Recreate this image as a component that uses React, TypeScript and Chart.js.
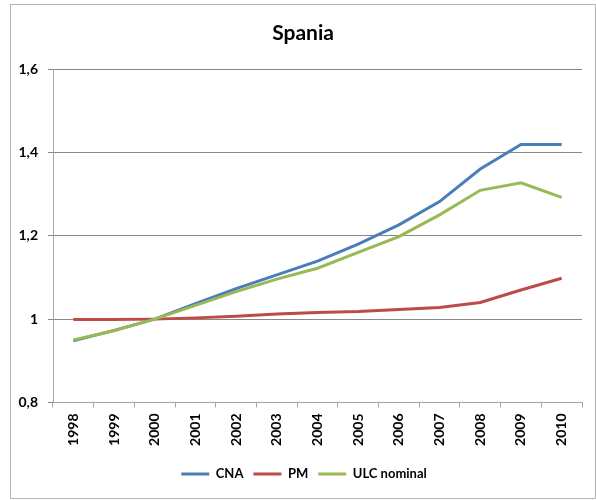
import React, { useEffect, useRef } from "react";
import { Chart, registerables } from "chart.js";

Chart.register(...registerables);

const years = ["1998", "1999", "2000", "2001", "2002", "2003", "2004", "2005", "2006", "2007", "2008", "2009", "2010"];
const cna = [0.948, 0.973, 1.0, 1.037, 1.073, 1.106, 1.139, 1.18, 1.226, 1.282, 1.36, 1.419, 1.419];
const pm = [0.999, 0.999, 1.0, 1.003, 1.007, 1.012, 1.016, 1.018, 1.023, 1.028, 1.04, 1.07, 1.098];
const ulc = [0.95, 0.972, 1.0, 1.033, 1.066, 1.096, 1.122, 1.16, 1.198, 1.25, 1.309, 1.327, 1.292];
const seriesNames = ["CNA", "PM", "ULC nominal"];
const chartTitle = "Spania";

const FONT = 'Lato, "Liberation Sans", sans-serif';

const borderPlugin = {
  id: "outerBorder",
  beforeDraw(chart: any) {
    const ctx = chart.ctx;
    ctx.save();
    ctx.fillStyle = "#ffffff";
    ctx.fillRect(0, 0, chart.width, chart.height);
    ctx.strokeStyle = "#b3b3b3";
    ctx.lineWidth = 1;
    ctx.strokeRect(10.5, 4.5, 585, 494);
    ctx.restore();
  },
  afterLayout(chart: any) {
    if (chart.legend) {
      chart.legend.left += 13;
      chart.legend.right += 13;
    }
    if (chart.titleBlock) {
      chart.titleBlock.left += 12;
      chart.titleBlock.right += 12;
    }
  },
};

export default function App() {
  const ref = useRef<HTMLCanvasElement | null>(null);
  useEffect(() => {
    if (!ref.current) return;
    const chart = new Chart(ref.current, {
      type: "line",
      data: {
        labels: years,
        datasets: [
          { label: seriesNames[0], data: cna, borderColor: "#4a7ebb", backgroundColor: "#4a7ebb", borderWidth: 3, pointRadius: 0, tension: 0, order: 1 },
          { label: seriesNames[1], data: pm, borderColor: "#be4b48", backgroundColor: "#be4b48", borderWidth: 3, pointRadius: 0, tension: 0, order: 2 },
          { label: seriesNames[2], data: ulc, borderColor: "#98b954", backgroundColor: "#98b954", borderWidth: 3, pointRadius: 0, tension: 0, order: 0 },
        ],
      },
      options: {
        responsive: false,
        animation: false,
        layout: { padding: { left: 0, right: 14, top: 0, bottom: 9.5 } },
        plugins: {
          title: {
            display: true,
            text: chartTitle,
            color: "#000",
            font: { family: FONT, size: 21, weight: "bold", lineHeight: 1.2 },
            padding: { top: 21, bottom: 22.8 },
          },
          legend: {
            position: "bottom",
            labels: {
              color: "#000",
              font: { family: FONT, size: 13, weight: "bold" },
              usePointStyle: true,
              pointStyle: "line",
              pointStyleWidth: 28,
              padding: 10,
              sort: (a: any, b: any) => a.datasetIndex - b.datasetIndex,
            },
          },
          tooltip: { enabled: false },
        },
        scales: {
          x: {
            offset: true,
            grid: { display: true, drawOnChartArea: false, drawTicks: true, offset: true, tickLength: 5, color: "#a6a6a6" },
            border: { display: true, color: "#a6a6a6" },
            ticks: { color: "#000", font: { family: FONT, size: 14, weight: "bold" }, minRotation: 90, maxRotation: 90, padding: 6, autoSkip: false },
            afterFit: (scale: any) => { scale.height = 55; },
          },
          y: {
            min: 0.8,
            max: 1.6,
            grid: { color: "#878787", tickLength: 5, drawTicks: true },
            border: { display: true, color: "#a6a6a6" },
            ticks: {
              stepSize: 0.2,
              color: "#000",
              padding: 10,
              font: { family: FONT, size: 14, weight: "bold" },
              callback: (v: any) => String(Math.round(Number(v) * 10) / 10).replace(".", ","),
            },
            afterFit: (scale: any) => { scale.width = 53; },
          },
        },
      },
      plugins: [borderPlugin],
    });
    return () => chart.destroy();
  }, []);
  return (
    <div style={{ position: "absolute", left: 0, top: 0, width: 596, height: 500 }}>
      <canvas ref={ref} width={596} height={500} style={{ width: 596, height: 500, display: "block" }} />
    </div>
  );
}
